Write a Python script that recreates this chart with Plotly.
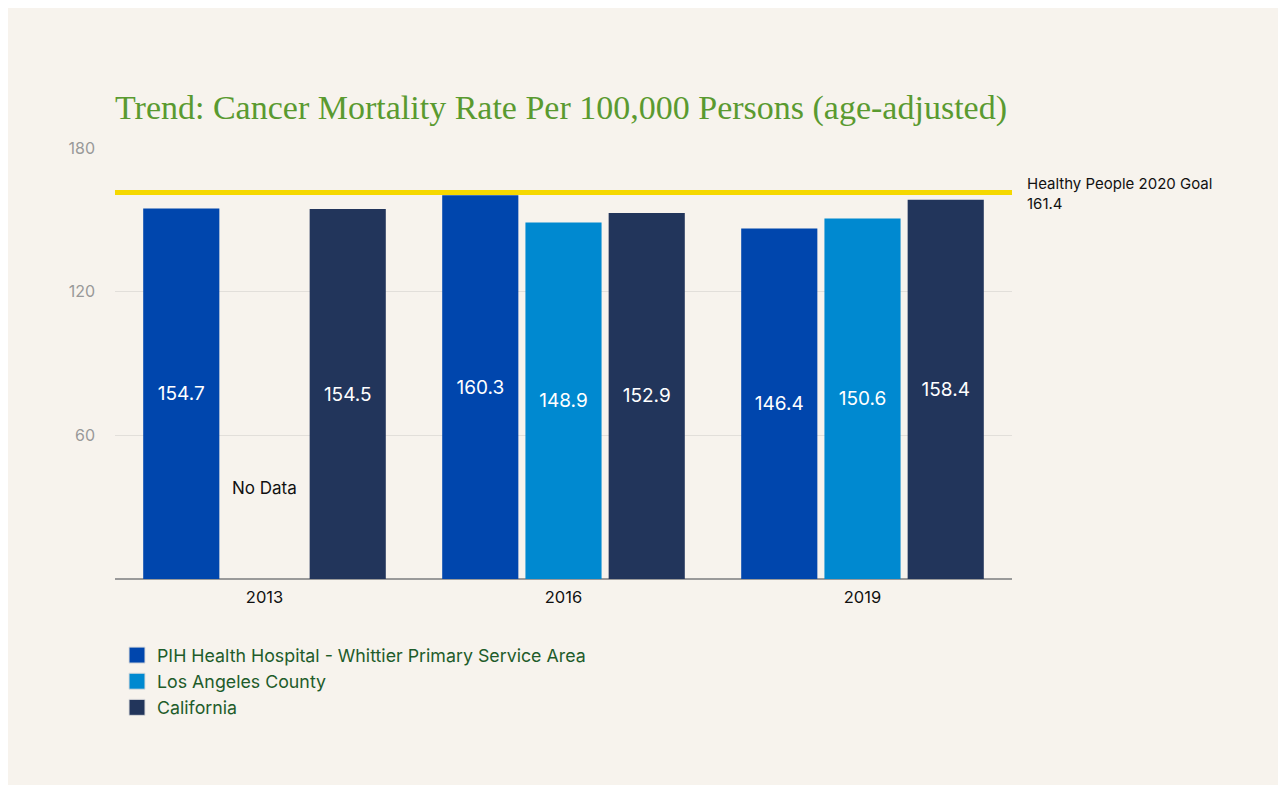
import plotly.graph_objects as go

years = ["2013", "2016", "2019"]
series_names = [
    "PIH Health Hospital - Whittier Primary Service Area",
    "Los Angeles County",
    "California",
]
pih_values = [154.7, 160.3, 146.4]
la_values = [None, 148.9, 150.6]
ca_values = [154.5, 152.9, 158.4]
series_colors = ["#0046ad", "#0089d0", "#22355b"]
goal_value = 161.4
goal_label = "Healthy People 2020 Goal<br>161.4"
no_data_label = "No Data"
no_data_value = 38
y_ticks = [60, 120, 180]
title_text = "Trend: Cancer Mortality Rate Per 100,000 Persons (age-adjusted)"

BG = "#f7f3ed"
W, H = 1278, 777
ML, MR, MT, MB = 107, 274, 140, 206
PW, PH = W - ML - MR, H - MT - MB

fig = go.Figure()
for name, vals, col in zip(series_names, [pih_values, la_values, ca_values], series_colors):
    fig.add_trace(go.Bar(
        x=years, y=vals, name=name, marker=dict(color=col, line=dict(width=0)),
        text=[f"{v:.1f}" if v is not None else "" for v in vals],
        textposition="inside", insidetextanchor="middle",
        textfont=dict(family="Inter", size=19, color="white"),
        hoverinfo="skip", showlegend=False,
    ))
    # legend proxy with a larger square swatch (no visible point: y is empty)
    fig.add_trace(go.Scatter(
        x=years[:1], y=[None], mode="markers", name=name,
        marker=dict(symbol="square", size=19, color=col, line=dict(width=1, color="#dcdcdc")),
        showlegend=True, hoverinfo="skip",
    ))

# goal line
fig.add_shape(type="line", xref="paper", x0=0, x1=1, yref="y", y0=goal_value, y1=goal_value,
              line=dict(color="#f5d800", width=5), layer="above")
fig.add_annotation(xref="paper", x=1 + 13 / PW, yref="y", y=goal_value - 0.5, text=goal_label,
                   showarrow=False, xanchor="left", yanchor="middle", align="left",
                   font=dict(family="Inter", size=15, color="#111111"))

# "No Data" label in the LA slot of the year with the missing value
# (category index, since numeric-looking category names are read as indices)
missing_idx = la_values.index(None)
fig.add_annotation(xref="x", x=missing_idx, y=no_data_value, text=no_data_label, showarrow=False,
                   font=dict(family="Inter", size=17, color="#111111"))

fig.update_layout(
    width=W, height=H, margin=dict(l=ML, r=MR, t=MT, b=MB),
    paper_bgcolor=BG, plot_bgcolor=BG,
    barmode="group", bargap=0.165, bargroupgap=0.085,
    title=dict(text=title_text, xref="paper", x=0, xanchor="left",
               yref="container", y=1 - 99 / H, yanchor="middle",
               font=dict(family="Liberation Serif", size=34, color="#5a9a30")),
    xaxis=dict(type="category", tickfont=dict(family="Inter", size=16.5, color="#111111"),
               showgrid=False, showline=False, ticks="", ticklabelstandoff=6),
    yaxis=dict(range=[0, 180], tickvals=y_ticks, showgrid=True, gridcolor="#e2dfda", gridwidth=1,
               zeroline=True, zerolinecolor="#9a9a9a", zerolinewidth=2, showline=False,
               tickfont=dict(family="Inter", size=16, color="#999999"), ticklabelstandoff=19),
    legend=dict(x=2 / PW, xanchor="left", y=-58 / PH, yanchor="top", bgcolor="rgba(0,0,0,0)",
                font=dict(family="Inter", size=17.8, color="#1e5c2a"), tracegroupgap=0,
                itemclick=False, itemdoubleclick=False),
    font=dict(family="Inter"),
    showlegend=True,
)

fig.write_html("out.html")
